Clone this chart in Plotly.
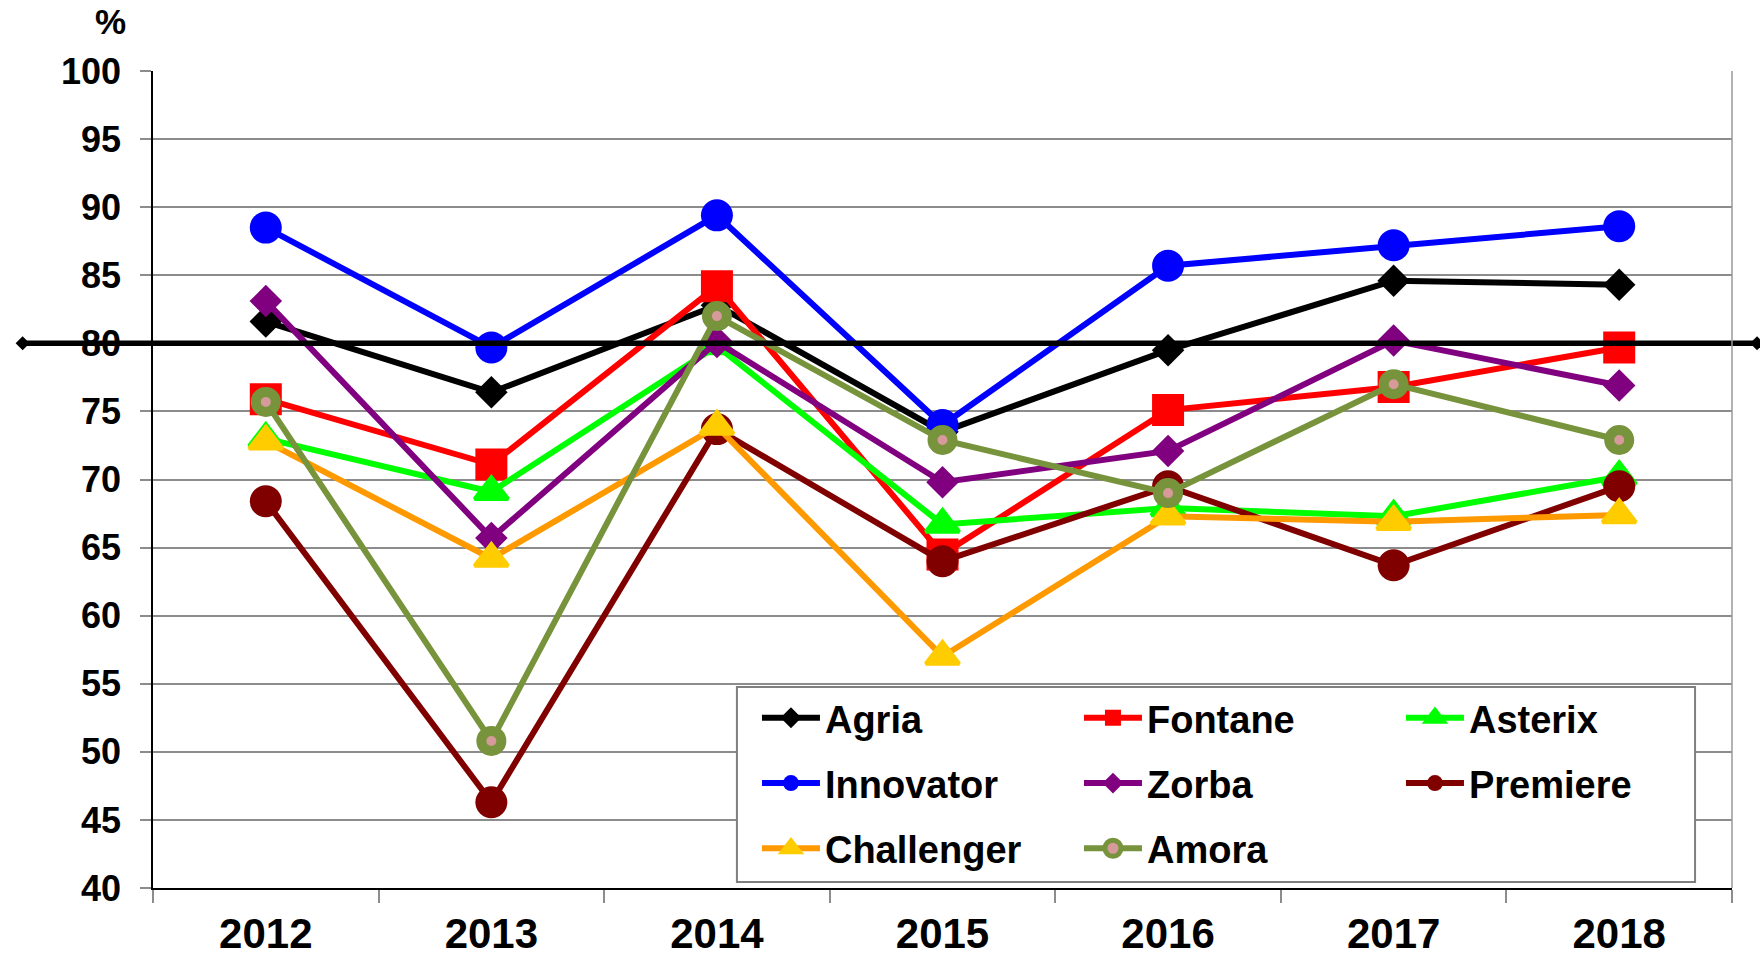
import plotly.graph_objects as go

YEARS = ["2012", "2013", "2014", "2015", "2016", "2017", "2018"]

AGRIA = [81.6, 76.4, 82.8, 73.5, 79.5, 84.6, 84.3]
FONTANE = [75.9, 71.1, 84.2, 64.5, 75.1, 76.8, 79.7]
ASTERIX = [73.0, 69.1, 79.8, 66.7, 67.9, 67.3, 70.2]
INNOVATOR = [88.5, 79.7, 89.4, 74.0, 85.7, 87.2, 88.6]
ZORBA = [83.1, 65.7, 80.1, 69.8, 72.1, 80.2, 76.9]
PREMIERE = [68.4, 46.3, 73.7, 64.0, 69.5, 63.7, 69.5]
CHALLENGER = [72.8, 64.2, 73.9, 57.0, 67.3, 66.9, 67.4]
AMORA = [75.7, 50.8, 82.0, 72.9, 69.0, 77.0, 72.9]

REFERENCE_LEVEL = 80
Y_TICKS = list(range(40, 101, 5))

FONT = "Liberation Sans, Arial, sans-serif"

series = [
    ("Agria", AGRIA, "#000000", "#000000", "diamond", 25, "legend"),
    ("Fontane", FONTANE, "#ff0000", "#ff0000", "square", 32, "legend"),
    ("Asterix", ASTERIX, "#00ff00", "#00ff00", "triangle-up", 29, "legend"),
    ("Innovator", INNOVATOR, "#0000ff", "#0000ff", "circle", 32, "legend2"),
    ("Zorba", ZORBA, "#800080", "#800080", "diamond", 25, "legend2"),
    ("Premiere", PREMIERE, "#800000", "#800000", "circle", 32, "legend2"),
    ("Challenger", CHALLENGER, "#ff9900", "#ffcc00", "triangle-up", 29, "legend3"),
    ("Amora", AMORA, "#77933c", "#77933c", "circle", 20, "legend3"),
]

x_idx = list(range(len(YEARS)))
n = len(YEARS)
fig = go.Figure()

for name, vals, lcol, mcol, sym, size, leg in series:
    if name == "Amora":
        marker = dict(symbol="circle", size=size, color="#d79a9a",
                      line=dict(color=lcol, width=10))
    elif sym == "triangle-up":
        marker = dict(symbol=sym, size=size, color=mcol, line=dict(color=mcol, width=4))
    else:
        marker = dict(symbol=sym, size=size, color=mcol, line=dict(width=0))
    fig.add_trace(go.Scatter(
        x=x_idx, y=vals, name=name, mode="lines+markers",
        line=dict(color=lcol, width=6), marker=marker,
        legend=leg, cliponaxis=False,
    ))

# reference line at 80 extending beyond the plot area (ends in x-data units)
REF_X = [-1.078, 6.611]
ref_y_paper = (REFERENCE_LEVEL - Y_TICKS[0]) / (Y_TICKS[-1] - Y_TICKS[0])
ref_x_paper = [(v + 0.5) / n for v in REF_X]
fig.add_shape(type="line", xref="paper", yref="paper",
              x0=ref_x_paper[0], x1=ref_x_paper[1],
              y0=ref_y_paper, y1=ref_y_paper,
              line=dict(color="black", width=5.5), layer="above")
for xp in ref_x_paper:
    fig.add_shape(type="path", xref="paper", yref="paper",
                  xsizemode="pixel", ysizemode="pixel",
                  xanchor=xp, yanchor=ref_y_paper,
                  path="M-7,0 L0,7 L7,0 L0,-7 Z",
                  fillcolor="black", line=dict(color="black", width=0), layer="above")

# legend box
fig.add_shape(type="rect", xref="paper", yref="paper",
              x0=0.3698, x1=0.9766, y0=0.0073, y1=0.246,
              fillcolor="white", line=dict(color="#7f7f7f", width=2), layer="above")
# right plot border
fig.add_shape(type="line", xref="paper", yref="paper", x0=1, x1=1, y0=0, y1=1,
              line=dict(color="#9a9a9a", width=1.5))

legend_common = dict(
    orientation="h", xanchor="left", yanchor="middle", x=0.3825,
    entrywidth=249, entrywidthmode="pixels", bgcolor="rgba(0,0,0,0)",
    font=dict(family=FONT, size=38, color="black", weight="bold"),
    itemwidth=58, borderwidth=0,
)

fig.update_layout(
    width=1760, height=958,
    margin=dict(l=153, r=28, t=71, b=70, autoexpand=False),
    paper_bgcolor="white", plot_bgcolor="white",
    font=dict(family=FONT, color="black"),
    showlegend=True,
    legend=dict(legend_common, y=0.208),
    legend2=dict(legend_common, y=0.128),
    legend3=dict(legend_common, y=0.0483),
    xaxis=dict(
        range=[-0.5, n - 0.5], tickmode="array", tickvals=x_idx, ticktext=YEARS,
        ticks="", showgrid=False, showline=True, linecolor="black", linewidth=2,
        tickfont=dict(family=FONT, size=42, color="black", weight="bold"),
        ticklabelstandoff=8, zeroline=False, automargin=False,
        minor=dict(tickmode="array", tickvals=[i - 0.5 for i in range(n + 1)],
                   ticks="outside", ticklen=13, tickcolor="#8c8c8c", tickwidth=1.5,
                   showgrid=False),
    ),
    yaxis=dict(
        range=[Y_TICKS[0], Y_TICKS[-1]], tickmode="array", tickvals=Y_TICKS,
        ticks="outside", ticklen=11, tickcolor="#8c8c8c", tickwidth=1.5,
        showgrid=True, gridcolor="#8c8c8c", gridwidth=1.5,
        showline=True, linecolor="black", linewidth=1.5, zeroline=False,
        tickfont=dict(family=FONT, size=36, color="black", weight="bold"),
        ticklabelstandoff=12, automargin=False,
    ),
    annotations=[dict(text="%", xref="paper", yref="paper", x=-0.0266, y=1.06,
                      xanchor="center", yanchor="middle", showarrow=False,
                      font=dict(family=FONT, size=35, color="black", weight="bold"))],
)

fig.write_html("out.html", post_script="document.body.style.margin='0';",
               config={"displayModeBar": False})
